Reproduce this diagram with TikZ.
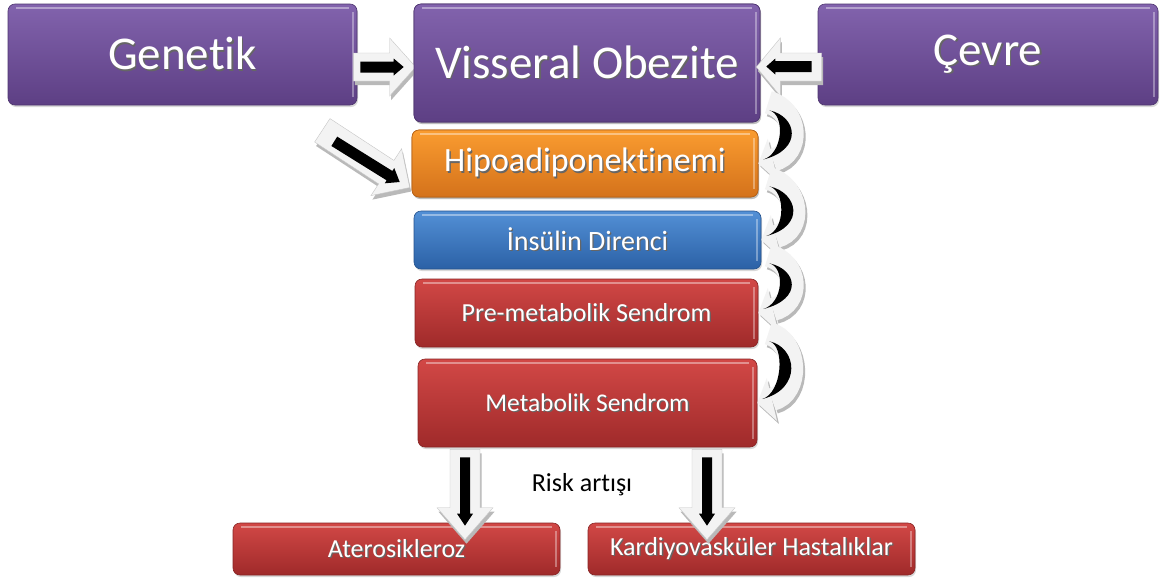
\documentclass[tikz,border=0pt]{standalone}
\usepackage{fontspec}
\setmainfont{Carlito}[Ligatures=NoCommon]
\usetikzlibrary{calc,arrows.meta,shadows}

\definecolor{purT}{HTML}{8263AD}
\definecolor{purB}{HTML}{5D3F84}
\definecolor{orT}{HTML}{FA9C30}
\definecolor{orB}{HTML}{D4721B}
\definecolor{blT}{HTML}{5390D6}
\definecolor{blB}{HTML}{2B61A6}
\definecolor{reT}{HTML}{D24846}
\definecolor{reB}{HTML}{9F2A2A}
\definecolor{arW}{HTML}{F3F3F3}
\definecolor{arS}{HTML}{B9B9B9}

\newcommand\shd[1]{\makebox[0pt][l]{\kern1.3pt\raisebox{-1.3pt}{\color{black!60}#1}}#1}

% straight block arrow: from, to, shaft half width, head half width, head length, style
\newcommand\barrow[6]{%
  \coordinate (barrowH) at ($(#2)!#5!(#1)$);
  \path[#6] ($(#1)!#3!90:(#2)$) -- ($(barrowH)!#3!90:(#2)$) -- ($(barrowH)!#4!90:(#2)$)
    -- (#2) -- ($(barrowH)!#4!-90:(#2)$) -- ($(barrowH)!#3!-90:(#2)$) -- ($(#1)!#3!-90:(#2)$) -- cycle;}

% curved block arrow along the right side: start, end
\newcommand\carrow[2]{%
  \draw[arS, line width=23pt, -{Triangle[length=15pt,width=44pt,line width=0pt]},
        transform canvas={shift={(2pt,-3pt)}}]
    (#1) .. controls +(30,8) and +(42,-10) .. (#2);
  \draw[arW, line width=23pt, -{Triangle[length=15pt,width=44pt,line width=0pt]}]
    (#1) .. controls +(30,8) and +(42,-10) .. (#2);
  \fill[black] ($(#1)+(1,8)$) .. controls +(28,6) and +(40,-10) .. ($(#2)+(5,-4)$)
    .. controls +(20,-6) and +(16,4) .. ($(#1)+(1,8)$) -- cycle;}

\tikzset{
  box/.style 2 args={rectangle, rounded corners=7pt, top color=#1, bottom color=#2,
    draw=#2!85!black, line width=0.6pt, text=white, inner sep=0pt,
    drop shadow={opacity=0.3,shadow xshift=1pt,shadow yshift=-2pt},
    path picture={
      \draw[white,opacity=.4,line width=2.5pt]
        ([xshift=8pt,yshift=-4pt]path picture bounding box.north west) --
        ([xshift=-8pt,yshift=-4pt]path picture bounding box.north east);
      \draw[white,opacity=.35,line width=1.5pt]
        ([xshift=-4pt,yshift=-8pt]path picture bounding box.north east) --
        ([xshift=-4pt,yshift=8pt]path picture bounding box.south east);}},
  warrow/.style={fill=arW, draw=gray!45, line width=0.4pt},
  wshadow/.style={fill=arS, transform canvas={shift={(1.5pt,-4pt)}}},
  barr/.style={fill=black},
  bigtxt/.style={font=\fontsize{47}{52}\selectfont},
  lowtxt/.style={font=\fontsize{26}{30}\selectfont},
}

\begin{document}
\begin{tikzpicture}[x=1pt,y=-1pt]
\useasboundingbox (0,0) rectangle (1162,579);
\fill[white] (0,0) rectangle (1162,579);

% top row boxes (Genetik first, the arrow to Visseral goes under Visseral)
\node[box={purT}{purB}, minimum width=349pt, minimum height=101pt, bigtxt] (genetik) at (182.5,54.5) {\shd{Genetik}};
\node[box={purT}{purB}, minimum width=340pt, minimum height=101pt, bigtxt] (cevre) at (988,54.5) {\shd{Çevre}};

% coordinates for the side arrows
\coordinate (ga1) at ([shift={(-4,12.5)}]genetik.east);
\coordinate (gb1) at ([shift={(3,12.5)}]genetik.east);
\coordinate (da1) at ([shift={(-35,25)}]genetik.south east);
\coordinate (db1) at ([shift={(-23,36)}]genetik.south east);

% Visseral box
\node[box={purT}{purB}, minimum width=346pt, minimum height=118pt, bigtxt] (visseral) at (587,63) {\shd{Visseral Obezite}};
\node[box={orT}{orB}, minimum width=346pt, minimum height=67pt, font=\fontsize{34}{38}\selectfont] (hipo) at (585,163.5) {\shd{Hipoadiponektinemi}};

\coordinate (ga2) at ([shift={(2,4)}]visseral.west);
\coordinate (gb2) at ([shift={(-10,4)}]visseral.west);
\coordinate (da2) at ([shift={(-2,24)}]hipo.west);
\coordinate (db2) at ([shift={(-12,18.5)}]hipo.west);

% Genetik -> Visseral arrow
\barrow{ga1}{ga2}{14pt}{29pt}{26pt}{wshadow}
\barrow{ga1}{ga2}{14pt}{29pt}{26pt}{warrow}
\barrow{gb1}{gb2}{5.5pt}{8.5pt}{10pt}{barr}
% diagonal arrow -> Hipoadiponektinemi
\barrow{da1}{da2}{14pt}{28pt}{28pt}{wshadow}
\barrow{da1}{da2}{14pt}{28pt}{28pt}{warrow}
\barrow{db1}{db2}{5.5pt}{9pt}{12pt}{barr}

% redraw Visseral and Hipo on top of arrow tips
\node[box={purT}{purB}, minimum width=346pt, minimum height=118pt, bigtxt] at (visseral) {\shd{Visseral Obezite}};
\node[box={orT}{orB}, minimum width=346pt, minimum height=67pt, font=\fontsize{34}{38}\selectfont] at (hipo) {\shd{Hipoadiponektinemi}};

\node[box={blT}{blB}, minimum width=347pt, minimum height=58pt, font=\fontsize{28}{32}\selectfont] (insulin) at (587.5,240) {\shd{İnsülin Direnci}};
\node[box={reT}{reB}, minimum width=343pt, minimum height=68pt, font=\fontsize{26}{30}\selectfont] (premet) at (586.5,313) {\shd{Pre-metabolik Sendrom}};
\node[box={reT}{reB}, minimum width=339pt, minimum height=88pt, font=\fontsize{25.5}{30}\selectfont] (metsen) at (587.5,403) {\shd{Metabolik Sendrom}};

\node[box={reT}{reB}, minimum width=327pt, minimum height=52pt, lowtxt] (ater) at (396.5,549) {\shd{Aterosikleroz}};
\node[box={reT}{reB}, minimum width=327pt, minimum height=52pt, lowtxt] (kardiyo) at (751.5,549) {\shd{Kardiyovasküler Hastalıklar}};

\node[lowtxt, text=black] (risk) at (582,485) {Risk artışı};

% Cevre -> Visseral arrow
\coordinate (ca1) at ([shift={(4,12.5)}]cevre.west);
\coordinate (ca2) at ([shift={(-4,4)}]visseral.east);
\coordinate (cb1) at ([shift={(-6,12)}]cevre.west);
\coordinate (cb2) at ([shift={(6,3.5)}]visseral.east);
\barrow{ca1}{ca2}{14pt}{29pt}{24pt}{wshadow}
\barrow{ca1}{ca2}{14pt}{29pt}{24pt}{warrow}
\barrow{cb1}{cb2}{5.5pt}{8pt}{9pt}{barr}

% curved arrows on the right
\coordinate (c1s) at ([shift={(8,-20)}]visseral.south east);
\coordinate (c2s) at ([shift={(10,-19)}]hipo.south east);
\coordinate (c3s) at ([shift={(7,-14)}]insulin.south east);
\coordinate (c4s) at ([shift={(10,-14)}]premet.south east);
\carrow{c1s}{hipo.east}
\carrow{c2s}{insulin.east}
\carrow{c3s}{premet.east}
\carrow{c4s}{metsen.east}

% down arrows
\coordinate (la1) at ([shift={(-122.5,2)}]metsen.south);
\coordinate (la2) at ([shift={(68.5,17)}]ater.north);
\coordinate (lb1) at ([shift={(-122.5,10)}]metsen.south);
\coordinate (lb2) at ([shift={(68.5,3)}]ater.north);
\coordinate (ra1) at ([shift={(119.5,2)}]metsen.south);
\coordinate (ra2) at ([shift={(-44.5,17)}]kardiyo.north);
\coordinate (rb1) at ([shift={(119.5,10)}]metsen.south);
\coordinate (rb2) at ([shift={(-44.5,3)}]kardiyo.north);
\barrow{la1}{la2}{15pt}{28pt}{32pt}{wshadow}
\barrow{la1}{la2}{15pt}{28pt}{32pt}{warrow}
\barrow{lb1}{lb2}{5pt}{8pt}{12pt}{barr}
\barrow{ra1}{ra2}{15pt}{28pt}{32pt}{wshadow}
\barrow{ra1}{ra2}{15pt}{28pt}{32pt}{warrow}
\barrow{rb1}{rb2}{5pt}{8pt}{12pt}{barr}
\end{tikzpicture}
\end{document}
